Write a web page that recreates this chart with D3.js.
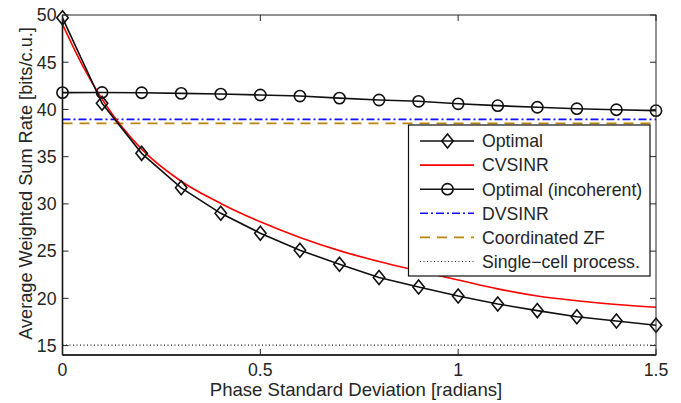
<!DOCTYPE html>
<html>
<head>
<meta charset="utf-8">
<script src="https://cdn.jsdelivr.net/npm/d3@7"></script>
<style>
  body { margin: 0; background: white; }
  text { font-family: "Liberation Sans", Arial, sans-serif; fill: #262626; }
</style>
</head>
<body>
<div class="canvas"></div>
<script>
var width = 681;
var height = 403;
var margin = { top: 15, right: 25, bottom: 48, left: 62.5 };

// data
var phase = [0, 0.1, 0.2, 0.3, 0.4, 0.5, 0.6, 0.7, 0.8, 0.9, 1.0, 1.1, 1.2, 1.3, 1.4, 1.5];
var optimal = [49.7, 40.65, 35.35, 31.7, 29.0, 26.9, 25.1, 23.6, 22.2, 21.2, 20.25, 19.4, 18.7, 18.05, 17.6, 17.15];
var incoherent = [41.78, 41.8, 41.77, 41.7, 41.63, 41.53, 41.42, 41.2, 41.0, 40.86, 40.6, 40.4, 40.23, 40.08, 39.97, 39.87];
var cvsinrPhase = [0, 0.05, 0.1, 0.2, 0.3, 0.4, 0.5, 0.6, 0.7, 0.8, 0.9, 1.0, 1.1, 1.2, 1.3, 1.4, 1.5];
var cvsinr = [49.0, 44.7, 41.1, 35.8, 32.4, 30.05, 28.1, 26.45, 25.05, 23.9, 22.9, 21.95, 21.0, 20.25, 19.75, 19.35, 19.05];
var dvsinr = 38.95;
var coordZF = 38.53;
var singleCell = 15.05;

var xTicks = [0, 0.5, 1, 1.5];
var yTicks = [15, 20, 25, 30, 35, 40, 45, 50];
var legendLabels = ["Optimal", "CVSINR", "Optimal (incoherent)", "DVSINR", "Coordinated ZF", "Single\u2212cell process."];

var fs = "17.7px";

var x = d3.scaleLinear().domain([0, 1.5]).range([margin.left, width - margin.right]);
var y = d3.scaleLinear().domain([14, 50]).range([height - margin.bottom, margin.top]);

var svg = d3.select(".canvas").append("svg")
    .attr("width", width)
    .attr("height", height)
    .style("background", "white");

var x0 = x.range()[0], x1 = x.range()[1], y0 = y.range()[0], y1 = y.range()[1];

var plot = svg.append("g");
plot.append("clipPath").attr("id", "clip").append("rect")
    .attr("x", x0).attr("y", y1).attr("width", x1 - x0).attr("height", y0 - y1);

var lines = plot.append("g").attr("clip-path", "url(#clip)");

function hline(v, color, dash, w) {
    lines.append("line")
        .attr("x1", x0).attr("x2", x1)
        .attr("y1", y(v)).attr("y2", y(v))
        .attr("stroke", color).attr("stroke-width", w)
        .attr("stroke-dasharray", dash);
}
hline(singleCell, "#222", "1,2.5", 1.2);
hline(coordZF, "#b8860b", "10,7", 1.6);
hline(dvsinr, "#1010ff", "8,3,2,3", 1.6);

var line = d3.line().x(d => x(d[0])).y(d => y(d[1]));

lines.append("path")
    .attr("d", line.curve(d3.curveMonotoneX)(cvsinrPhase.map((p, i) => [p, cvsinr[i]])))
    .attr("fill", "none").attr("stroke", "#ff0000").attr("stroke-width", 1.6);

line.curve(d3.curveLinear);
lines.append("path")
    .attr("d", line(phase.map((p, i) => [p, incoherent[i]])))
    .attr("fill", "none").attr("stroke", "#111").attr("stroke-width", 1.6);
lines.append("path")
    .attr("d", line(phase.map((p, i) => [p, optimal[i]])))
    .attr("fill", "none").attr("stroke", "#111").attr("stroke-width", 1.6);

function diamond(g, cx, cy) {
    g.append("path")
        .attr("d", `M${cx},${cy - 7}L${cx + 5.7},${cy}L${cx},${cy + 7}L${cx - 5.7},${cy}Z`)
        .attr("fill", "none").attr("stroke", "#111").attr("stroke-width", 1.6);
}
function circle(g, cx, cy) {
    g.append("circle").attr("cx", cx).attr("cy", cy).attr("r", 5.6)
        .attr("fill", "none").attr("stroke", "#111").attr("stroke-width", 1.6);
}

var markers = plot.append("g");
phase.forEach((p, i) => {
    circle(markers, x(p), y(incoherent[i]));
    diamond(markers, x(p), y(optimal[i]));
});

// box and ticks
var axes = svg.append("g");
axes.append("rect")
    .attr("x", x0).attr("y", y1).attr("width", x1 - x0).attr("height", y0 - y1)
    .attr("fill", "none").attr("stroke", "#262626").attr("stroke-width", 1);
axes.append("line").attr("x1", x0).attr("x2", x0).attr("y1", y1).attr("y2", y0)
    .attr("stroke", "#111").attr("stroke-width", 1.6);
axes.append("line").attr("x1", x0).attr("x2", x1).attr("y1", y0).attr("y2", y0)
    .attr("stroke", "#111").attr("stroke-width", 1.6);

var tl = 6;
yTicks.forEach(t => {
    axes.append("line").attr("x1", x0).attr("x2", x0 + tl).attr("y1", y(t)).attr("y2", y(t)).attr("stroke", "#262626");
    axes.append("line").attr("x1", x1).attr("x2", x1 - tl).attr("y1", y(t)).attr("y2", y(t)).attr("stroke", "#262626");
    axes.append("text").attr("x", x0 - 6).attr("y", y(t)).attr("dy", "0.36em")
        .attr("text-anchor", "end").style("font-size", fs).text(t);
});
xTicks.forEach(t => {
    axes.append("line").attr("x1", x(t)).attr("x2", x(t)).attr("y1", y0).attr("y2", y0 - tl).attr("stroke", "#262626");
    axes.append("line").attr("x1", x(t)).attr("x2", x(t)).attr("y1", y1).attr("y2", y1 + tl).attr("stroke", "#262626");
    axes.append("text").attr("x", x(t)).attr("y", 376)
        .attr("text-anchor", "middle").style("font-size", fs).text(t);
});

svg.append("text")
    .attr("x", 356).attr("y", 396)
    .attr("text-anchor", "middle").style("font-size", "18.6px")
    .text("Phase Standard Deviation [radians]");
svg.append("text")
    .attr("transform", `translate(32,183.5) rotate(-90)`)
    .attr("text-anchor", "middle").style("font-size", "18.2px")
    .text("Average Weighted Sum Rate [bits/c.u.]");

// legend
var lg = svg.append("g");
lg.append("rect").attr("x", 408.5).attr("y", 125).attr("width", 241.5).attr("height", 151)
    .attr("fill", "white").attr("stroke", "#111").attr("stroke-width", 1.2);
var styles = [
    { c: "#111", d: null, m: "d" },
    { c: "#ff0000", d: null, m: null },
    { c: "#111", d: null, m: "o" },
    { c: "#1010ff", d: "8,3,2,3", m: null },
    { c: "#b8860b", d: "10,7", m: null },
    { c: "#222", d: "1,2.5", m: null }
];
legendLabels.forEach((lab, i) => {
    var ly = 141 + i * 24.1;
    lg.append("line").attr("x1", 420).attr("x2", 474).attr("y1", ly).attr("y2", ly)
        .attr("stroke", styles[i].c).attr("stroke-width", i == 5 ? 1.2 : 1.6)
        .attr("stroke-dasharray", styles[i].d);
    if (styles[i].m == "d") diamond(lg, 447.5, ly);
    if (styles[i].m == "o") circle(lg, 447.5, ly);
    lg.append("text").attr("x", 482).attr("y", ly).attr("dy", "0.36em")
        .style("font-size", fs).text(lab);
});
</script>
</body>
</html>
